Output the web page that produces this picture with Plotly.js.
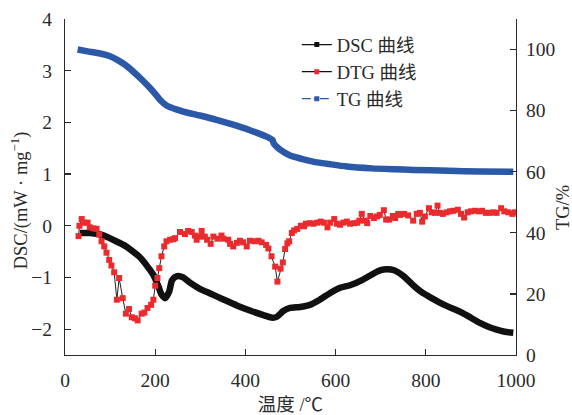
<!DOCTYPE html>
<html>
<head>
<meta charset="utf-8">
<script src="https://cdn.plot.ly/plotly-3.0.1.min.js"></script>
<style>html,body{margin:0;padding:0;background:#fff;}#chart{width:572px;height:415px;}</style>
</head>
<body>
<div id="chart"></div>
<script>
// DSC curve (left axis, mW/mg)
const dscT = [33,55,74,95,111,130,148,165,177,188,196,207,214,222,231,237,244,251,262,277,299,322,350,381,410,440,460,470,484,499,521,543,565,588,610,632,661,683,700,713,730,750,772,790,809,830,846,865,882,900,920,940,957,975,994];
const dscV = [-0.14,-0.14,-0.16,-0.22,-0.29,-0.37,-0.48,-0.6,-0.72,-0.85,-0.95,-1.17,-1.33,-1.40,-1.27,-1.06,-0.99,-0.97,-1.0,-1.10,-1.22,-1.31,-1.42,-1.54,-1.64,-1.73,-1.78,-1.76,-1.65,-1.59,-1.57,-1.53,-1.43,-1.30,-1.20,-1.15,-1.04,-0.93,-0.86,-0.84,-0.86,-0.97,-1.15,-1.28,-1.38,-1.48,-1.55,-1.62,-1.69,-1.78,-1.88,-1.96,-2.01,-2.05,-2.07];

// DTG curve (left axis)
const dtgT = [30,32,37,43,50,55,63,70,76,81,87,92,98,103,109,115,120,128,135,142,148,155,161,170,176,183,191,196,200,205,209,214,220,225,233,240,244,255,266,273,281,288,292,299,303,310,315,323,329,338,347,351,362,366,373,381,388,395,403,410,421,429,436,446,451,458,466,471,478,483,488,493,497,503,508,515,523,530,534,543,551,559,567,574,582,588,597,603,610,617,625,632,641,648,653,658,665,670,677,685,692,698,707,712,719,727,732,739,743,752,761,772,780,787,792,798,807,813,820,826,831,838,846,854,861,871,878,885,893,900,909,918,925,933,942,950,957,967,974,983,992,997];
const dtgV = [-0.2,0.0,0.13,0.06,0.06,-0.03,-0.05,-0.06,-0.17,-0.3,-0.4,-0.52,-0.66,-0.77,-0.9,-1.43,-1.01,-1.4,-1.7,-1.61,-1.77,-1.79,-1.83,-1.7,-1.68,-1.59,-1.53,-1.43,-1.16,-1.01,-0.82,-0.59,-0.4,-0.3,-0.27,-0.26,-0.24,-0.12,-0.16,-0.1,-0.12,-0.19,-0.27,-0.21,-0.1,-0.21,-0.27,-0.35,-0.21,-0.25,-0.19,-0.25,-0.27,-0.35,-0.4,-0.33,-0.29,-0.32,-0.4,-0.29,-0.3,-0.29,-0.32,-0.37,-0.44,-0.59,-0.79,-1.08,-0.83,-0.71,-0.45,-0.34,-0.3,-0.14,-0.09,-0.06,0.0,-0.01,0.04,0.05,0.04,0.06,0.08,0.06,-0.03,0.06,0.13,0.04,0.02,0.06,0.08,0.04,0.05,0.06,0.1,0.23,0.1,0.05,0.19,0.15,0.18,0.21,0.3,0.12,0.12,0.19,0.15,0.23,0.21,0.23,0.2,0.1,0.23,0.25,0.08,0.18,0.34,0.26,0.25,0.39,0.25,0.23,0.26,0.28,0.29,0.31,0.23,0.16,0.26,0.28,0.29,0.28,0.29,0.25,0.25,0.26,0.25,0.34,0.28,0.26,0.23,0.26];

// TG curve (right axis, %)
const tgT = [28,50,78,100,115,135,151,170,188,200,211,226,245,262,299,336,373,410,447,460,463,468,477,499,525,550,590,625,680,730,772,850,920,994];
const tgV = [100,99.4,98.7,97.8,96.7,94.8,92.8,90.2,87.5,85.5,83.5,81.6,80.5,79.7,78.4,77,75.4,73.6,71.5,70.4,69.2,68.4,67.2,65.3,64.2,63.3,62.4,61.7,61.1,60.8,60.6,60.3,60.1,60];

const names = ['DSC 曲线','DTG 曲线','TG 曲线'];
const xTicks = [0,200,400,600,800,1000];
const yTicks = [-2,-1,0,1,2,3,4];
const y2Ticks = [0,20,40,60,80,100];
const xTitle = '温度 /℃';
const yTitle = 'DSC/(mW · mg<sup>−1</sup>)';
const y2Title = 'TG/%';

const FONT = 'Liberation Serif, "Times New Roman", "Noto Sans CJK SC", serif';
const INK = '#2a2a2a';
const RED = '#ea2b2e';
const BLUE = '#2c58a8';

const traces = [
  {x: tgT, y: tgV, yaxis: 'y2', mode: 'lines', line: {color: BLUE, width: 6.5, shape: 'spline', smoothing: 0.6}, showlegend: false, hoverinfo: 'skip'},
  {x: dscT, y: dscV, mode: 'lines', line: {color: '#111', width: 6.5, shape: 'spline', smoothing: 0.6}, showlegend: false},
  {x: dtgT, y: dtgV, mode: 'lines+markers', line: {color: '#222', width: 1}, marker: {color: RED, symbol: 'square', size: 6}, showlegend: false},
  // legend entries
  {x: [null], y: [null], name: names[0], mode: 'lines+markers', line: {color: '#111', width: 1.2}, marker: {color: '#111', symbol: 'square', size: 5}},
  {x: [null], y: [null], name: names[1], mode: 'lines+markers', line: {color: '#111', width: 1.2}, marker: {color: RED, symbol: 'square', size: 5}},
  {x: [null], y: [null], name: names[2], mode: 'lines+markers', line: {color: BLUE, width: 1.2, dash: 'dashdot'}, marker: {color: BLUE, symbol: 'square', size: 5}}
];

const titleFont = {family: FONT, size: 18.5, color: INK};

const layout = {
  width: 572, height: 415,
  margin: {l: 65, r: 56, t: 19, b: 60},
  paper_bgcolor: '#fff', plot_bgcolor: '#fff',
  font: {family: FONT, size: 19, color: INK},
  showlegend: true,
  legend: {x: 0.514, y: 0.979, xanchor: 'left', yanchor: 'top', bgcolor: 'rgba(0,0,0,0)', font: {family: FONT, size: 18.5, color: INK}, tracegroupgap: 0},
  xaxis: {
    range: [0, 1000], tickvals: xTicks, ticktext: xTicks.map(String),
    showline: true, linecolor: INK, linewidth: 1.2, mirror: false,
    ticks: 'inside', ticklen: 6, tickcolor: INK, tickwidth: 1.2,
    showgrid: false, zeroline: false, ticklabelstandoff: 7,
    tickfont: {family: FONT, size: 19.5, color: INK},
    title: {text: xTitle, font: titleFont, standoff: 9}
  },
  yaxis: {
    range: [-2.5, 4], tickvals: yTicks, ticktext: yTicks.map(v => v < 0 ? '\u2212' + Math.abs(v) : String(v)),
    showline: true, linecolor: INK, linewidth: 1.2,
    ticks: 'inside', ticklen: 6, tickcolor: INK, tickwidth: 1.2,
    showgrid: false, zeroline: false, ticklabelstandoff: 8,
    tickfont: {family: FONT, size: 19.5, color: INK}
  },
  yaxis2: {
    overlaying: 'y', side: 'right', range: [0, 110], tickvals: y2Ticks, ticktext: y2Ticks.map(String),
    showline: true, linecolor: INK, linewidth: 1.2,
    ticks: 'inside', ticklen: 6, tickcolor: INK, tickwidth: 1.2,
    showgrid: false, zeroline: false, ticklabelstandoff: 5,
    tickfont: {family: FONT, size: 19.5, color: INK}
  },
  annotations: [
    {text: yTitle, xref: 'paper', yref: 'paper', x: -0.1, y: 0.46, xanchor: 'center', yanchor: 'middle', textangle: -90, showarrow: false, font: titleFont},
    {text: y2Title, xref: 'paper', yref: 'paper', x: 1.104, y: 0.44, xanchor: 'center', yanchor: 'middle', textangle: -90, showarrow: false, font: titleFont}
  ]
};

Plotly.newPlot('chart', traces, layout, {staticPlot: true, displayModeBar: false});
</script>
</body>
</html>
